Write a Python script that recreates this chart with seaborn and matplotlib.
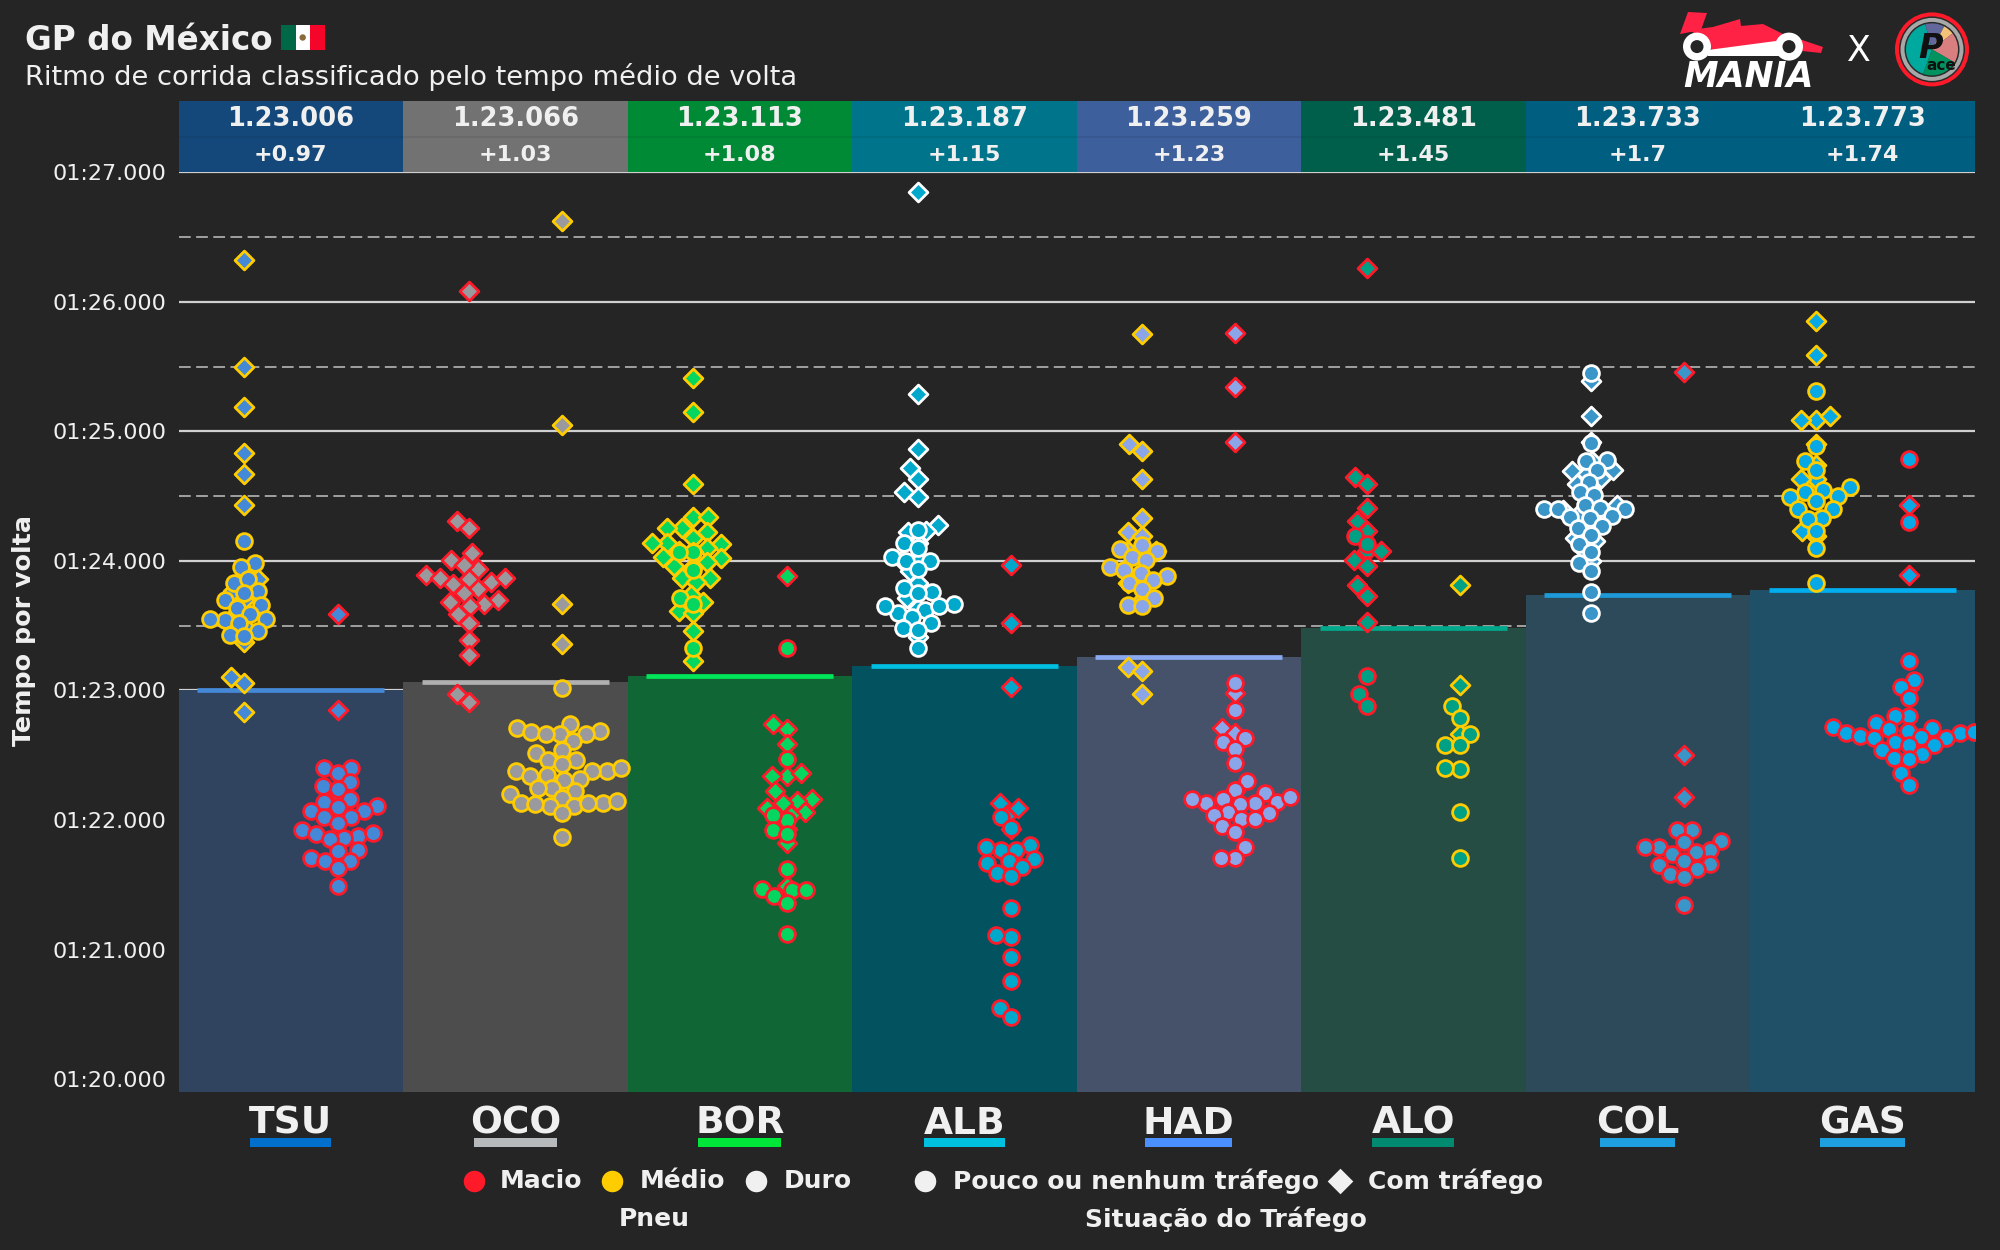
"""
GP do México - ritmo de corrida por piloto
swarm por composto e situação de tráfego, barra até o tempo médio
"""

import numpy as np
import pandas as pd
import matplotlib
matplotlib.use("Agg")
import matplotlib.pyplot as plt
import seaborn as sns
from matplotlib.markers import MarkerStyle
from matplotlib.patches import Circle, Polygon, Rectangle, Wedge
from matplotlib.ticker import FixedLocator, FuncFormatter
from matplotlib.transforms import Affine2D

BG = "#252525"
TEXT = "#F0F0F0"

drivers = ["TSU", "OCO", "BOR", "ALB", "HAD", "ALO", "COL", "GAS"]
mean_times = [83.006, 83.066, 83.113, 83.187, 83.259, 83.481, 83.733, 83.773]
mean_labels = ["1.23.006", "1.23.066", "1.23.113", "1.23.187", "1.23.259", "1.23.481", "1.23.733", "1.23.773"]
gap_labels = ["+0.97", "+1.03", "+1.08", "+1.15", "+1.23", "+1.45", "+1.7", "+1.74"]

fill_colors = ["#4488D8", "#9A9A9E", "#05D65F", "#00A8CC", "#8AA5E8", "#00A085", "#3A96C8", "#06A8E6"]
bar_colors = ["#30445F", "#4D4D4D", "#116635", "#02525F", "#46516A", "#254D44", "#2C4A5A", "#1F5068"]
header_colors = ["#14487A", "#727272", "#008A36", "#00748A", "#3D5F9C", "#005F4B", "#005E80", "#005E80"]
mean_line_colors = ["#4488D8", "#B0B0B0", "#00E65A", "#00BFE0", "#8AA9F0", "#00A88C", "#1E9AD8", "#00AEEF"]
underline_colors = ["#0070CC", "#B6BABD", "#00E639", "#00C0E0", "#4A90FF", "#008B70", "#1E9FDF", "#1E9FDF"]
underline_widths = [81, 83, 83, 81, 87, 82, 75, 85]

compound_colors = {"Macio": "#FF1A2A", "Médio": "#FFCC00", "Duro": "#FFFFFF"}
# (coluna esquerda, coluna direita) de cada piloto
stints = [("Médio", "Macio"), ("Macio", "Médio"), ("Médio", "Macio"), ("Duro", "Macio"),
          ("Médio", "Macio"), ("Macio", "Médio"), ("Duro", "Macio"), ("Médio", "Macio")]

# tempos de volta em segundos: pouco tráfego / com tráfego
tsu_m_clear = [84.15, 83.98, 83.95, 83.83, 83.86, 83.77, 83.75, 83.70, 83.64, 83.66, 83.59, 83.54, 83.55, 83.55, 83.52, 83.46, 83.43, 83.42]
tsu_m_traffic = [86.32, 85.50, 85.19, 84.83, 84.67, 84.43, 83.84, 83.86, 83.77, 83.70, 83.59, 83.50, 83.37, 83.10, 83.06, 82.83]
tsu_s_clear = [82.40, 82.40, 82.36, 82.29, 82.26, 82.24, 82.16, 82.14, 82.11, 82.07, 82.10, 82.07, 82.02, 82.02, 81.98, 81.92, 81.89, 81.88, 81.90, 81.86, 81.85, 81.76, 81.77, 81.71, 81.68, 81.68, 81.63, 81.49]
tsu_s_traffic = [83.59, 82.85, 82.20]

oco_s_clear = []
oco_s_traffic = [86.08, 84.31, 84.25, 84.06, 84.01, 83.94, 83.97, 83.89, 83.86, 83.87, 83.84, 83.87, 83.82, 83.78, 83.75, 83.68, 83.70, 83.67, 83.65, 83.59, 83.52, 83.39, 83.27, 82.97, 82.91]
oco_m_clear = [83.02, 82.74, 82.71, 82.68, 82.66, 82.69, 82.66, 82.66, 82.61, 82.54, 82.52, 82.46, 82.46, 82.43, 82.38, 82.38, 82.40, 82.38, 82.35, 82.34, 82.31, 82.32, 82.25, 82.25, 82.22, 82.17, 82.20, 82.13, 82.13, 82.11, 82.15, 82.11, 82.12, 82.13, 82.05, 81.87]
oco_m_traffic = [86.62, 85.05, 83.67, 83.36, 82.48]

bor_m_clear = [84.07, 84.07, 83.93, 83.71, 83.67, 83.33]
bor_m_traffic = [85.41, 85.15, 84.59, 84.34, 84.34, 84.25, 84.25, 84.22, 84.18, 84.14, 84.14, 84.13, 84.08, 84.10, 84.07, 84.03, 84.02, 83.96, 83.99, 83.95, 83.87, 83.87, 83.84, 83.74, 83.68, 83.61, 83.60, 83.46, 83.23]
bor_s_clear = [83.33, 82.47, 82.00, 82.04, 81.92, 81.89, 81.62, 81.46, 81.47, 81.46, 81.41, 81.36, 81.12]
bor_s_traffic = [83.88, 82.74, 82.70, 82.59, 82.34, 82.36, 82.34, 82.22, 82.16, 82.15, 82.13, 82.09, 82.06, 82.04, 82.01, 81.93, 81.82, 81.49]

alb_h_clear = [84.24, 84.14, 84.10, 84.03, 84.00, 84.00, 83.94, 83.76, 83.79, 83.75, 83.67, 83.60, 83.62, 83.65, 83.65, 83.57, 83.52, 83.48, 83.47, 83.33]
alb_h_traffic = [86.85, 85.29, 84.86, 84.72, 84.63, 84.53, 84.49, 84.28, 84.23, 84.22, 84.14, 84.01, 84.00, 83.92, 83.83, 83.71, 83.64, 83.41]
alb_s_clear = [82.02, 81.94, 81.81, 81.77, 81.77, 81.79, 81.70, 81.68, 81.67, 81.64, 81.59, 81.57, 81.32, 81.10, 81.11, 80.94, 80.76, 80.55, 80.48]
alb_s_traffic = [83.97, 83.52, 83.03, 82.13, 82.09, 82.03, 81.93]

had_m_clear = [84.08, 84.09, 84.12, 84.03, 84.01, 83.95, 83.93, 83.91, 83.88, 83.85, 83.83, 83.78, 83.71, 83.66, 83.65]
had_m_traffic = [85.75, 84.90, 84.85, 84.63, 84.33, 84.22, 84.19, 84.08, 84.05, 84.08, 83.83, 83.81, 83.70, 83.18, 83.15, 82.97]
had_s_clear = [83.06, 82.85, 82.63, 82.60, 82.55, 82.44, 82.30, 82.23, 82.21, 82.16, 82.14, 82.13, 82.12, 82.13, 82.18, 82.16, 82.06, 82.05, 82.04, 82.01, 82.01, 81.95, 81.91, 81.79, 81.71, 81.71]
had_s_traffic = [85.76, 85.34, 84.92, 82.98, 82.71, 82.67, 82.22]

alo_s_clear = [84.19, 84.13, 83.11, 82.97, 82.88]
alo_s_traffic = [86.26, 84.65, 84.59, 84.41, 84.31, 84.23, 84.08, 84.08, 84.01, 83.96, 83.81, 83.73, 83.53]
alo_m_clear = [82.88, 82.79, 82.66, 82.58, 82.58, 82.39, 82.40, 82.06, 81.71]
alo_m_traffic = [83.81, 83.04, 82.66]

col_h_clear = [85.45, 84.91, 84.77, 84.78, 84.70, 84.61, 84.53, 84.51, 84.43, 84.41, 84.40, 84.40, 84.40, 84.33, 84.34, 84.35, 84.25, 84.27, 84.20, 84.13, 84.07, 83.98, 83.92, 83.76, 83.60]
col_h_traffic = [85.39, 85.12, 84.92, 84.77, 84.69, 84.59, 84.67, 84.70, 84.56, 84.64, 84.45, 84.39, 84.43, 84.37, 84.34, 84.35, 84.18, 84.15, 84.09, 84.00]
col_s_clear = [81.92, 81.92, 81.84, 81.83, 81.79, 81.77, 81.79, 81.74, 81.75, 81.68, 81.66, 81.65, 81.62, 81.58, 81.56, 81.34]
col_s_traffic = [85.46, 82.50, 82.18]

gas_m_clear = [85.31, 84.89, 84.77, 84.70, 84.57, 84.55, 84.53, 84.49, 84.50, 84.46, 84.40, 84.40, 84.33, 84.32, 84.23, 84.10, 83.83]
gas_m_traffic = [85.85, 85.59, 85.09, 85.12, 85.09, 84.90, 84.74, 84.63, 84.63, 84.30, 84.19, 84.23]
gas_s_clear = [84.79, 84.30, 83.23, 83.08, 83.03, 82.94, 82.80, 82.80, 82.75, 82.73, 82.71, 82.70, 82.72, 82.67, 82.68, 82.67, 82.69, 82.65, 82.64, 82.63, 82.63, 82.60, 82.58, 82.58, 82.54, 82.51, 82.48, 82.47, 82.36, 82.27]
gas_s_traffic = [84.43, 83.89, 83.02, 82.69]

laps = [
    ((tsu_m_clear, tsu_m_traffic), (tsu_s_clear, tsu_s_traffic)),
    ((oco_s_clear, oco_s_traffic), (oco_m_clear, oco_m_traffic)),
    ((bor_m_clear, bor_m_traffic), (bor_s_clear, bor_s_traffic)),
    ((alb_h_clear, alb_h_traffic), (alb_s_clear, alb_s_traffic)),
    ((had_m_clear, had_m_traffic), (had_s_clear, had_s_traffic)),
    ((alo_s_clear, alo_s_traffic), (alo_m_clear, alo_m_traffic)),
    ((col_h_clear, col_h_traffic), (col_s_clear, col_s_traffic)),
    ((gas_m_clear, gas_m_traffic), (gas_s_clear, gas_s_traffic)),
]

sns.set_theme(style="dark", rc={"figure.facecolor": BG, "axes.facecolor": BG, "savefig.facecolor": BG})
plt.rcParams["font.family"] = ["DejaVu Sans"]


def lap_label(value, _pos):
    minutes = int(value // 60)
    return f"{minutes:02d}:{value - minutes * 60:06.3f}"


fig = plt.figure(figsize=(20, 12.5), dpi=100)
ax = fig.add_axes([178.6 / 2000, 1 - 1092 / 1250, 1795.9 / 2000, 991 / 1250])

# barras até o tempo médio
pos = np.arange(len(drivers))
bars = pd.DataFrame({"pos": pos, "mean": mean_times, "driver": drivers})
sns.barplot(data=bars, x="pos", y="mean", hue="driver", palette=bar_colors, native_scale=True,
            width=1.0, saturation=1, dodge=False, legend=False, linewidth=0, ax=ax)

# marcador maior que o raio usado no cálculo do swarm, como no original
swarm_size = 8
circle = MarkerStyle("o", transform=Affine2D().scale(1.42))
diamond = MarkerStyle("D", transform=Affine2D().scale(1.2))

for i, driver in enumerate(drivers):
    for side, offset in enumerate([-0.208, 0.208]):
        compound = stints[i][side]
        clear, traffic = laps[i][side]
        for times, marker in [(traffic, diamond), (clear, circle)]:
            if not times:
                continue
            sns.swarmplot(x=np.full(len(times), i + offset), y=times, orient="x", native_scale=True,
                          color=fill_colors[i], edgecolor=compound_colors[compound], linewidth=2.0,
                          size=swarm_size, marker=marker, warn_thresh=1, ax=ax)

# linha do tempo médio e cabeçalho
for i, driver in enumerate(drivers):
    ax.hlines(mean_times[i], i - 0.417, i + 0.417, color=mean_line_colors[i], linewidth=3.4, zorder=2)

ax.bar(pos, 0.55, bottom=87, width=1.0, color=header_colors, linewidth=0, zorder=1)
ax.hlines(87.275, -0.5, 7.5, color="#000000", alpha=0.08, linewidth=1.2, zorder=1.2)
for i, driver in enumerate(drivers):
    ax.text(i, 87.41, mean_labels[i], ha="center", va="center", color=TEXT, fontsize=18.5, fontweight="bold")
    ax.text(i, 87.137, gap_labels[i], ha="center", va="center", color=TEXT, fontsize=16, fontweight="bold")

ax.set_xlim(-0.5, 7.5)
ax.set_ylim(79.9, 87.55)
ax.set_xticks(pos)
ax.set_xticklabels(drivers, fontsize=27, fontweight="bold", color=TEXT)
ax.yaxis.set_major_locator(FixedLocator(np.arange(80, 88)))
ax.yaxis.set_minor_locator(FixedLocator(np.arange(80.5, 87, 1)))
ax.yaxis.set_major_formatter(FuncFormatter(lap_label))
ax.tick_params(axis="y", which="both", length=0, labelsize=16, labelcolor=TEXT, pad=9)
ax.tick_params(axis="x", length=0, pad=10)
ax.set_xlabel("")
ax.set_ylabel("")
ax.grid(False)
ax.grid(True, axis="y", which="major", color="#D0D0D0", linewidth=1.6, linestyle="-")
ax.grid(True, axis="y", which="minor", color="#ABABAB", linewidth=1.3, linestyle=(0, (6.5, 3)))
sns.despine(ax=ax, left=True, bottom=True)

# camada em pixels: títulos, legenda, bandeira e logos
ov = fig.add_axes([0, 0, 1, 1], zorder=5)
ov.set_xlim(0, 2000)
ov.set_ylim(1250, 0)
ov.axis("off")
ov.patch.set_alpha(0)

ov.text(25, 50, "GP do México", color=TEXT, fontsize=23.5, fontweight="bold", va="baseline")
ov.text(25, 85, "Ritmo de corrida classificado pelo tempo médio de volta", color=TEXT, fontsize=19.6, va="baseline")
ov.text(24, 631, "Tempo por volta", color=TEXT, fontsize=18.3, fontweight="bold", rotation=90, ha="center", va="center")

for x0, w, c in [(281, 14.5, "#006847"), (295.5, 14.5, "#FFFFFF"), (310, 14.5, "#F5052A")]:
    ov.add_patch(Rectangle((x0, 25), w, 25, color=c, lw=0))
ov.add_patch(Circle((302.7, 37.5), 3.2, color="#8A6A3A", lw=0))

for i, driver in enumerate(drivers):
    xc = 178.6 + 224.5 * (i + 0.5)
    ov.add_patch(Rectangle((xc - underline_widths[i] / 2, 1138), underline_widths[i], 9,
                           color=underline_colors[i], lw=0))

legend_dots = [(474, "Macio", 500, compound_colors["Macio"], "o"),
               (612, "Médio", 640, compound_colors["Médio"], "o"),
               (756, "Duro", 784, TEXT, "o"),
               (925, "Pouco ou nenhum tráfego", 953, TEXT, "o"),
               (1340, "Com tráfego", 1368, TEXT, "D")]
for xd, label, xt, c, m in legend_dots:
    ov.scatter([xd], [1181], s=240 if m == "o" else 170, color=c, marker=m, linewidths=0)
    ov.text(xt, 1181, label, color=TEXT, fontsize=18, fontweight="bold", va="center")
ov.text(654, 1219, "Pneu", color=TEXT, fontsize=18, fontweight="bold", ha="center", va="center")
ov.text(1226, 1219, "Situação do Tráfego", color=TEXT, fontsize=18, fontweight="bold", ha="center", va="center")

# logo MANIA
red = "#FF2244"
ov.add_patch(Polygon([(1680, 34), (1688, 12), (1707, 13), (1701, 30)], color=red, lw=0))
ov.add_patch(Polygon([(1690, 30), (1713, 27), (1740, 19), (1741, 26), (1763, 24), (1783, 34), (1802, 40),
                      (1823, 47), (1821, 53), (1802, 51), (1775, 42), (1712, 50), (1700, 38)], color=red, lw=0))
ov.add_patch(Polygon([(1708, 50), (1776, 41), (1782, 56), (1708, 56)], color="#FFFFFF", lw=0))
for xw in [1697, 1789]:
    ov.add_patch(Circle((xw, 46.6), 14, color="#FFFFFF", lw=0))
    ov.add_patch(Circle((xw, 46.6), 6.5, color=BG, lw=0))
ov.text(1748, 77, "MANIA", color="#FFFFFF", fontsize=25, fontweight="bold", fontstyle="italic", ha="center", va="center")
ov.text(1859, 51, "X", color="#FFFFFF", fontsize=25, ha="center", va="center")

# logo Pace
c0 = (1932, 49.4)
ov.add_patch(Circle(c0, 37, color="#FF1A2A", lw=0))
ov.add_patch(Circle(c0, 33, color="#2A2A2A", lw=0))
ov.add_patch(Circle(c0, 31.5, color="#A8A8A8", lw=0))
ov.add_patch(Circle(c0, 27.5, color="#2A2A2A", lw=0))
# y invertido: ângulos negativos sobem na tela
for a0, a1, c in [(-250, -105, "#00A99D"), (-105, -62, "#62689C"), (-62, -38, "#F5C27A"),
                  (-38, 30, "#D97F7F"), (30, 110, "#00935F")]:
    ov.add_patch(Wedge(c0, 26, a0, a1, color=c, lw=0))
ov.text(1931, 49, "P", color="#111111", fontsize=24, fontweight="bold", fontstyle="italic", ha="center", va="center")
ov.text(1941, 65, "ace", color="#111111", fontsize=11, fontweight="bold", ha="center", va="center")

fig.savefig("out.png", dpi=100, facecolor=BG)
